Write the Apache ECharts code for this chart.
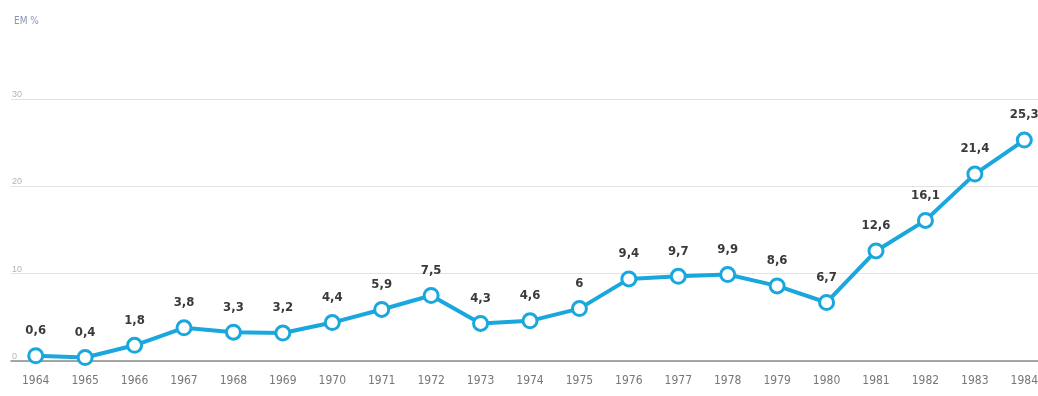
<!DOCTYPE html>
<html><head><meta charset="utf-8">
<script src="https://cdn.jsdelivr.net/npm/echarts@6/dist/echarts.min.js"></script>
<style>html,body{margin:0;padding:0;background:#fff;overflow:hidden;width:1038px;height:396px}#c{width:1049px;height:396px}</style>
</head><body><div id="c"></div>
<script>
const years = ['1964','1965','1966','1967','1968','1969','1970','1971','1972','1973','1974','1975','1976','1977','1978','1979','1980','1981','1982','1983','1984'];
const values = [0.6,0.4,1.8,3.8,3.3,3.2,4.4,5.9,7.5,4.3,4.6,6,9.4,9.7,9.9,8.6,6.7,12.6,16.1,21.4,25.3];
const yTicks = [0,10,20,30];
const unitLabel = 'EM %';

const cond = 'DejaVu Sans Condensed, Liberation Sans Narrow, sans-serif';
const chart = echarts.init(document.getElementById('c'));
chart.setOption({
  animation: false,
  title: {text: unitLabel, left: 9, top: 11, textStyle: {fontSize: 10, fontWeight: 'normal', color: '#8795b8', fontFamily: cond}},
  grid: {left: 11, right: 0, top: 99, bottom: 35},
  xAxis: {
    type: 'category', data: years, boundaryGap: true,
    axisLine: {lineStyle: {color: '#8a8a8a', width: 1.5}},
    axisTick: {inside: true, length: 5, lineStyle: {color: '#777'}},
    axisLabel: {color: '#777', fontSize: 12, margin: 14, fontFamily: cond}
  },
  yAxis: {
    type: 'value', min: 0, max: 30, interval: 10,
    axisLine: {show: false}, axisTick: {show: false},
    splitLine: {lineStyle: {color: '#e2e2e2'}},
    axisLabel: {inside: true, verticalAlign: 'bottom', margin: 1, color: '#b5b5b5', fontSize: 9,
      formatter: v => yTicks.includes(v) ? String(v) : ''}
  },
  series: [{
    type: 'line', data: values,
    lineStyle: {color: '#1aa7dd', width: 4},
    itemStyle: {color: '#fff', borderColor: '#1aa7dd', borderWidth: 3},
    symbol: 'circle', symbolSize: 14, showAllSymbol: true,
    label: {show: true, position: 'top', distance: 10, color: '#3a3a3a', fontWeight: 'bold', fontSize: 13,
      fontFamily: cond,
      formatter: p => String(p.value).replace('.', ',')}
  }]
});
</script></body></html>
